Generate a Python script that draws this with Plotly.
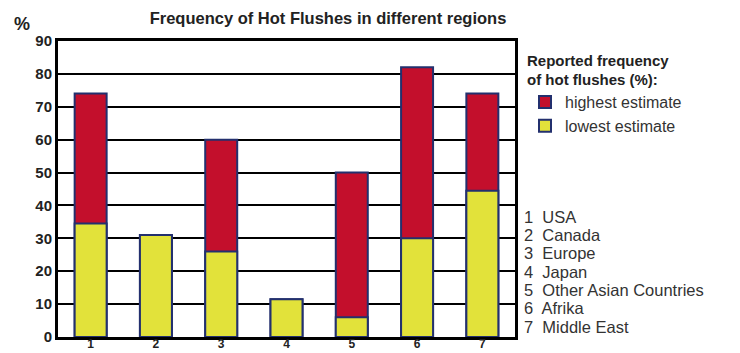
import plotly.graph_objects as go

# Regions (numbered on the x axis) and reported hot flush frequencies (%)
region_ids = ["1", "2", "3", "4", "5", "6", "7"]
region_names = ["USA", "Canada", "Europe", "Japan", "Other Asian Countries", "Afrika", "Middle East"]
highest_estimate = [74, 31, 60, 11.5, 50, 82, 74]
lowest_estimate = [34.5, 31, 26, 11.5, 6, 30, 44.5]
y_ticks = [0, 10, 20, 30, 40, 50, 60, 70, 80, 90]

RED = "#c30f2c"
YELLOW = "#e2e23a"
OUTLINE = "#23306e"
FONT = "Liberation Sans, Arial, sans-serif"

# plot area in pixels
L, R, T, B = 58, 515, 41, 337
PW, PH = R - L, B - T


def px_x(x):
    return (x - L) / PW


def px_y(y):
    return (B - y) / PH


fig = go.Figure()
fig.add_trace(go.Bar(
    x=region_ids, y=highest_estimate, name="highest estimate",
    marker=dict(color=RED, line=dict(color=OUTLINE, width=2)),
    width=0.49,
))
fig.add_trace(go.Bar(
    x=region_ids, y=lowest_estimate, name="lowest estimate",
    marker=dict(color=YELLOW, line=dict(color=OUTLINE, width=2)),
    width=0.49,
))

# Numbered key of regions to the right of the plot
for i, (rid, name) in enumerate(zip(region_ids, region_names)):
    fig.add_annotation(
        xref="paper", yref="paper", x=px_x(522), y=px_y(216.7 + i * 18.3),
        text=f"{rid}  {name}", showarrow=False, xanchor="left", yanchor="middle",
        font=dict(family=FONT, size=16.5, color="#333333"),
    )

fig.add_annotation(
    xref="paper", yref="paper", x=px_x(12), y=px_y(24), text="<b>%</b>",
    showarrow=False, xanchor="left", yanchor="middle",
    font=dict(family=FONT, size=18, color="#222222"),
)

fig.update_layout(
    width=740, height=353,
    margin=dict(l=L, r=740 - R, t=T, b=353 - B, autoexpand=False),
    paper_bgcolor="white", plot_bgcolor="white",
    barmode="overlay",
    title=dict(
        text="<b>Frequency of Hot Flushes in different regions</b>",
        x=328 / 740, xanchor="center", y=1 - 18 / 353, yanchor="middle",
        font=dict(family=FONT, size=16.5, color="#222222"),
    ),
    showlegend=True,
    legend=dict(
        x=px_x(525), y=px_y(46), xanchor="left", yanchor="top",
        title=dict(text="<b>Reported frequency<br>of hot flushes (%):</b>",
                   font=dict(family=FONT, size=15, color="#222222")),
        font=dict(family=FONT, size=16, color="#333333"),
        traceorder="normal", itemsizing="constant",
        bgcolor="rgba(0,0,0,0)", tracegroupgap=0,
    ),
    xaxis=dict(
        type="category", showgrid=False, showline=True, linecolor="black",
        linewidth=3, mirror=True, ticks="", automargin=False,
        ticklabelstandoff=-6,
        tickfont=dict(family=FONT, size=12, color="#222222", weight="bold"),
    ),
    yaxis=dict(
        range=[0, 90], tickvals=y_ticks, showgrid=True, gridcolor="black",
        gridwidth=1.5, showline=True, linecolor="black", linewidth=3,
        mirror=True, ticks="", zeroline=False, automargin=False,
        tickfont=dict(family=FONT, size=15, color="#222222", weight="bold"),
    ),
)

fig.write_html("out.html")
